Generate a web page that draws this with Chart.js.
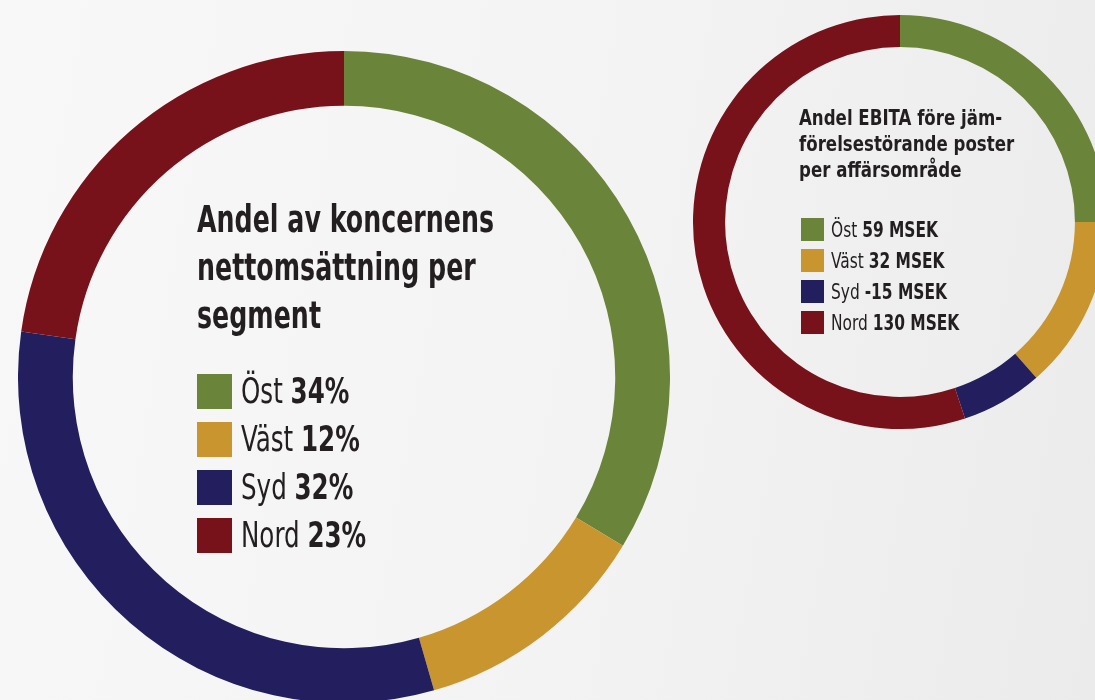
<!DOCTYPE html>
<html>
<head>
<meta charset="utf-8">
<script src="https://cdn.jsdelivr.net/npm/chart.js@4/dist/chart.umd.min.js"></script>
<style>
  html, body { margin: 0; padding: 0; }
  body {
    width: 1095px; height: 700px; overflow: hidden; position: relative;
    background: linear-gradient(100deg, #f8f8f8 0%, #f3f3f3 55%, #ebebeb 100%);
    font-family: "Liberation Sans Narrow", "DejaVu Sans Condensed", sans-serif;
    color: #231f20;
  }
  canvas { position: absolute; }
  .title { position: absolute; font-weight: bold; transform-origin: left top; white-space: nowrap; }
  .legend { position: absolute; }
  .row { display: flex; align-items: center; white-space: nowrap; }
  .sw { display: inline-block; flex: none; }
  .t { display: inline-block; transform-origin: left center; }
  .row b { font-weight: bold; }
  #bigTitle { left: 197px; top: 196px; font-size: 37px; line-height: 48px; transform: scaleX(0.76); }
  #bigLegend { left: 197px; top: 367px; font-size: 35px; }
  #bigLegend .row { height: 48px; }
  #bigLegend .sw { width: 35px; height: 35px; margin-right: 9px; }
  #bigLegend .t { transform: scaleX(0.78); }
  #smallTitle { left: 799px; top: 105px; font-size: 22px; line-height: 26px; transform: scaleX(0.84); }
  #smallLegend { left: 801px; top: 214px; font-size: 22px; }
  #smallLegend .row { height: 31px; }
  #smallLegend .sw { width: 23px; height: 23px; margin-right: 7px; }
  #smallLegend .t { transform: scaleX(0.78); }
</style>
</head>
<body>
<canvas id="bigChart" width="652" height="652" style="left:18px;top:51px;"></canvas>
<canvas id="smallChart" width="414" height="414" style="left:693px;top:15px;"></canvas>

<div class="title" id="bigTitle">Andel av koncernens<br>nettomsättning per<br>segment</div>
<div class="legend" id="bigLegend"></div>
<div class="title" id="smallTitle">Andel EBITA före jäm-<br>förelsestörande poster<br>per affärsområde</div>
<div class="legend" id="smallLegend"></div>

<script>
const segments = ["Öst", "Väst", "Syd", "Nord"];
const colors = ["#6a843a", "#c9952e", "#231f5e", "#78121a"];

// nettoomsättning, procent
const salesShare = [34, 12, 32, 23];
// EBITA före jämförelsestörande poster, MSEK
const ebita = [59, 32, -15, 130];

function makeDoughnut(id, values, cutout) {
  return new Chart(document.getElementById(id), {
    type: "doughnut",
    data: {
      labels: segments,
      datasets: [{
        data: values.map(v => Math.abs(v)),
        backgroundColor: colors,
        borderWidth: 0
      }]
    },
    options: {
      responsive: false,
      animation: false,
      cutout: cutout,
      layout: { padding: 0 },
      plugins: {
        legend: { display: false },
        tooltip: { enabled: false }
      }
    }
  });
}

makeDoughnut("bigChart", salesShare, "83.2%");
makeDoughnut("smallChart", ebita, "84.5%");

// legends
function fillLegend(id, values, unit) {
  document.getElementById(id).innerHTML = segments.map((s, i) =>
    `<div class="row"><span class="sw" style="background:${colors[i]}"></span><span class="t">${s} <b>${values[i]}${unit}</b></span></div>`
  ).join("");
}
fillLegend("bigLegend", salesShare, "%");
fillLegend("smallLegend", ebita, " MSEK");
</script>
</body>
</html>
